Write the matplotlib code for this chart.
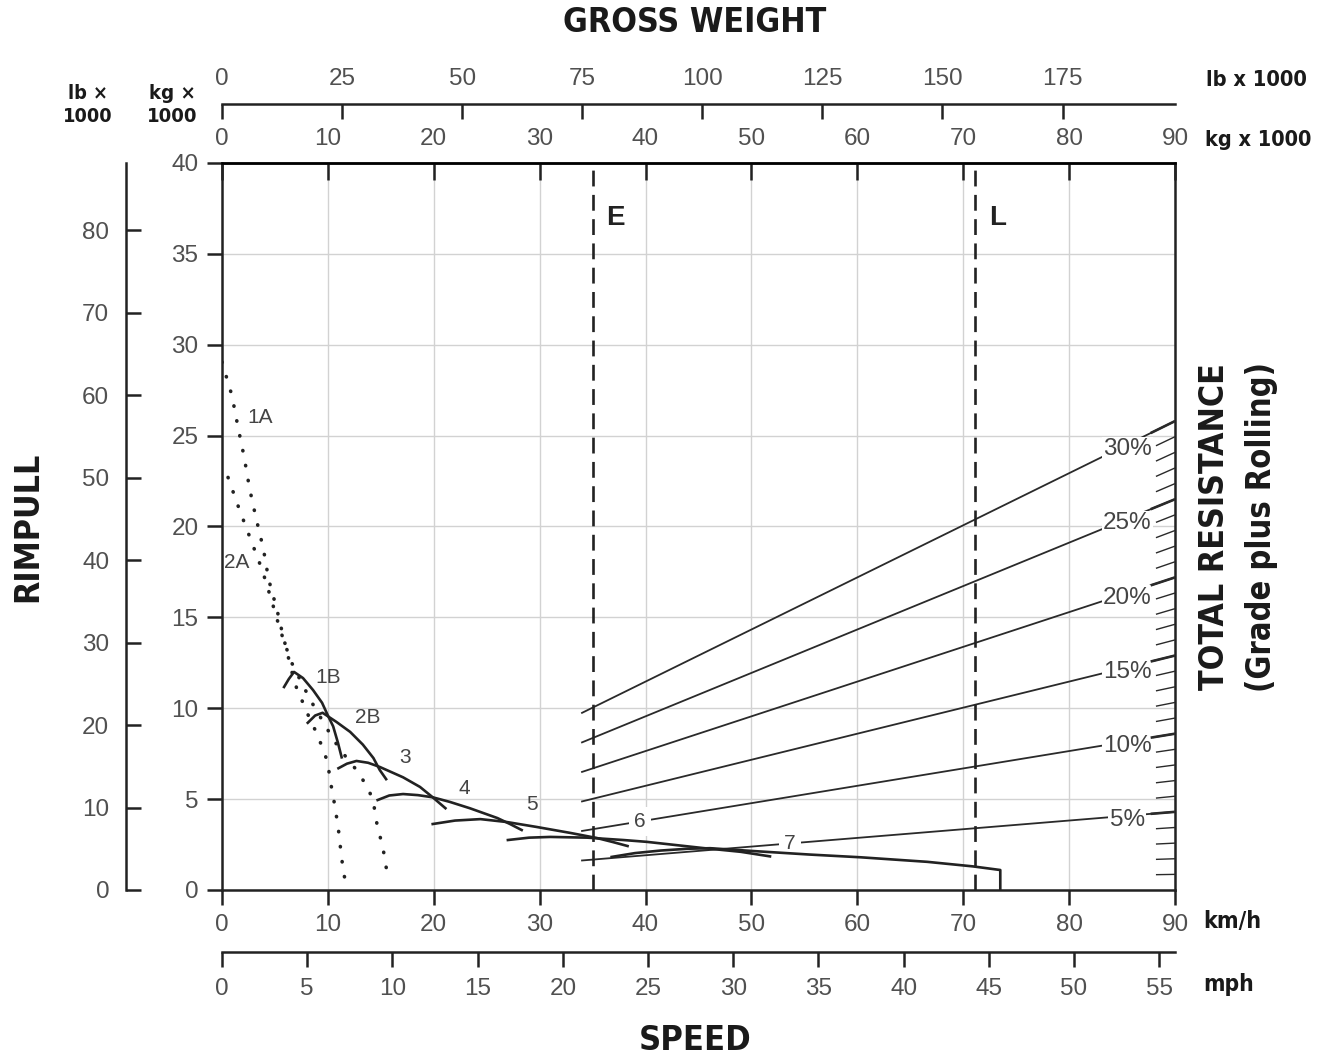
import numpy as np
import matplotlib
matplotlib.use("Agg")
import matplotlib.pyplot as plt
from matplotlib import font_manager
from matplotlib.font_manager import FontProperties

# ---- data (speed km/h, rimpull kg x 1000) ----
gear_1a_x = [0.0, 0.94, 1.5, 2.1, 2.6, 3.2, 3.9, 4.4, 5.2, 5.6, 6.1, 6.6, 7.1, 7.65,
             8.3, 8.97, 9.5, 10.0, 10.2, 10.5, 10.7, 10.95, 11.1, 11.3, 11.45, 11.8]
gear_1a_y = [29.05, 27.2, 25.5, 23.8, 22.1, 20.5, 18.8, 17.1, 15.4, 14.4, 13.2, 12.0, 11.0, 10.3,
             9.4, 8.6, 7.8, 7.0, 6.05, 5.2, 4.4, 3.6, 2.75, 1.8, 1.0, 0.17]
gear_2a_x = [0.57, 1.6, 2.7, 3.8, 4.7, 5.5, 6.5, 7.6, 8.6, 9.6, 10.6, 11.6, 12.7, 13.7,
             14.3, 14.5, 14.8, 15.2, 15.4, 15.7]
gear_2a_y = [22.7, 21.0, 19.3, 17.6, 15.9, 14.3, 12.6, 11.3, 10.2, 9.2, 8.2, 7.4, 6.6, 5.7,
             4.9, 4.0, 3.2, 2.37, 1.54, 0.7]

gear_1b_x = [5.86, 6.3, 6.8, 7.65, 8.6, 9.45, 10.0, 10.5, 10.95, 11.3]
gear_1b_y = [11.17, 11.6, 12.0, 11.66, 11.0, 10.3, 9.6, 9.0, 8.1, 7.3]
gear_2b_x = [8.1, 8.8, 9.5, 10.8, 12.1, 13.3, 14.3, 14.9, 15.5]
gear_2b_y = [9.2, 9.6, 9.75, 9.25, 8.7, 8.0, 7.26, 6.6, 6.1]
gear_3_x = [11.0, 11.8, 12.7, 13.8, 14.9, 17.1, 18.7, 19.9, 21.1]
gear_3_y = [6.7, 6.95, 7.1, 7.0, 6.77, 6.2, 5.67, 5.1, 4.5]
gear_4_x = [14.7, 15.8, 17.1, 18.5, 19.9, 21.5, 23.4, 26.0, 27.2, 28.3]
gear_4_y = [4.95, 5.2, 5.28, 5.22, 5.1, 4.85, 4.5, 3.96, 3.63, 3.3]
gear_5_x = [19.9, 22.0, 24.4, 26.9, 29.7, 32.9, 35.4, 36.9, 38.3]
gear_5_y = [3.63, 3.82, 3.9, 3.74, 3.47, 3.14, 2.86, 2.64, 2.42]
gear_6_x = [27.0, 29.0, 31.0, 34.5, 37.9, 40.1, 45.4, 49.0, 51.75]
gear_6_y = [2.75, 2.88, 2.92, 2.88, 2.75, 2.65, 2.31, 2.1, 1.85]
gear_7_x = [36.8, 39.0, 41.4, 44.0, 46.1, 50.0, 55.5, 60.3, 66.6, 70.9, 73.5, 73.5]
gear_7_y = [1.82, 2.03, 2.17, 2.27, 2.3, 2.15, 1.95, 1.8, 1.55, 1.3, 1.1, 0.0]

empty_weight = 35.0     # kg x 1000, "E"
loaded_weight = 71.1    # kg x 1000, "L"

grades = [5, 10, 15, 20, 25, 30]
minor_grades = list(range(1, 31))
res_per_pct = 0.86      # kg x 1000 of resistance per % at 90 t gross weight
gw_full = 90.0
grade_start = 34.0

kmh_ticks = list(range(0, 91, 10))
mph_ticks = list(range(0, 56, 5))
kg_ticks = list(range(0, 41, 5))
lbl_ticks = list(range(0, 81, 10))
gw_kg_ticks = list(range(0, 91, 10))
gw_lb_ticks = list(range(0, 176, 25))

KG_PER_LB = 0.45359237
KMH_PER_MPH = 1.609344

# ---- fonts ----
ttf = font_manager.fontManager.ttflist
names = {f.name for f in ttf}
plain = "Liberation Sans" if "Liberation Sans" in names else "DejaVu Sans"
plt.rcParams["font.family"] = [plain, "DejaVu Sans"]


def is_bold(f):
    w = f.weight
    if isinstance(w, str):
        return "bold" in w.lower() or "black" in w.lower() or "heavy" in w.lower()
    return w >= 600


cond_files = [f for f in ttf if is_bold(f) and f.style == "normal" and
              ("Condensed" in f.name or "Narrow" in f.name or
               str(f.stretch) in ("condensed", "semi-condensed", "extra-condensed",
                                  "ultra-condensed"))]
if cond_files:
    head_fp = FontProperties(fname=cond_files[0].fname)
else:
    fam = "Roboto" if "Roboto" in names else plain
    head_fp = FontProperties(family=fam, weight="bold")

W, H = 1321, 1062
L, R, T, B = 222, 1175, 163, 890
fig = plt.figure(figsize=(W / 100, H / 100), dpi=100)
ax = fig.add_axes([L / W, 1 - B / H, (R - L) / W, (B - T) / H])
ax.set_xlim(0, 90)
ax.set_ylim(0, 40)

ink = "#222222"
lab = "#505050"
tsize = 17.5

for s in ax.spines.values():
    s.set_linewidth(1.8)
    s.set_color(ink)

ax.set_xticks(kmh_ticks)
ax.set_yticks(kg_ticks)
ax.tick_params(axis="both", direction="out", length=11, width=1.8, color=ink,
               labelsize=tsize, labelcolor=lab)
ax.tick_params(axis="x", pad=6)
ax.tick_params(axis="y", pad=6)
ax.grid(True, color="#d2d2d2", lw=1.0)
ax.set_axisbelow(True)

# top gross weight kg axis
top_kg = ax.secondary_xaxis("top")
top_kg.set_xticks(gw_kg_ticks)
top_kg.tick_params(direction="in", length=12, width=1.8, color=ink,
                   labelsize=tsize, labelcolor=lab, pad=9)
top_kg.spines["top"].set_linewidth(1.8)
top_kg.set_zorder(3)

# top gross weight lb axis
top_lb = ax.secondary_xaxis((B - 104) / (B - T),
                            functions=(lambda x: x / KG_PER_LB, lambda x: x * KG_PER_LB))
top_lb.set_xticks(gw_lb_ticks)
top_lb.tick_params(direction="in", length=11, width=1.8, color=ink,
                   labelsize=tsize, labelcolor=lab, pad=10)
for s in top_lb.spines.values():
    s.set_linewidth(1.8)
    s.set_color(ink)

# left rimpull lb axis
left_lb = ax.secondary_yaxis(-(L - 126) / (R - L),
                             functions=(lambda y: y / KG_PER_LB, lambda y: y * KG_PER_LB))
left_lb.set_yticks(lbl_ticks)
left_lb.tick_params(direction="in", length=11, width=1.8, color=ink,
                    labelsize=tsize, labelcolor=lab, pad=12)
for s in left_lb.spines.values():
    s.set_linewidth(1.8)
    s.set_color(ink)

# bottom mph axis
bot_mph = ax.secondary_xaxis(-(952 - B) / (B - T),
                             functions=(lambda x: x / KMH_PER_MPH, lambda x: x * KMH_PER_MPH))
bot_mph.set_xticks(mph_ticks)
bot_mph.tick_params(direction="out", length=11, width=1.8, color=ink,
                    labelsize=tsize, labelcolor=lab, pad=8)
for s in bot_mph.spines.values():
    s.set_linewidth(1.8)
    s.set_color(ink)


# ---- total resistance lines ----
def resist(p, x):
    return res_per_pct * p * np.asarray(x) / gw_full


for p in grades:
    xs = np.array([grade_start, gw_full])
    ax.plot(xs, resist(p, xs), color="#2a2a2a", lw=1.3, zorder=3)
    ax.text(85.5, resist(p, 85.5) - 0.25, f"{p}%", fontsize=17.5, color="#444444",
            ha="center", va="center", zorder=4,
            bbox=dict(boxstyle="square,pad=0.06", fc="white", ec="none"))
for p in minor_grades:
    major = p % 5 == 0
    xs = np.array([87.7 if major else 88.2, gw_full])
    ax.plot(xs, resist(p, xs), color="#2a2a2a", lw=1.9 if major else 1.0,
            zorder=5, solid_capstyle="butt")

# E and L lines
for xv, name in [(empty_weight, "E"), (loaded_weight, "L")]:
    ax.axvline(xv, color=ink, lw=1.9, ls=(0, (6, 3.2)), zorder=4)
    ax.text(xv + 1.3, 37.0, name, fontsize=20, fontweight="bold", color=ink,
            ha="left", va="center")

# ---- rimpull curves ----
dot_style = dict(color=ink, lw=2.6, ls=(0, (0.1, 4.1)), dash_capstyle="round", zorder=6)
ax.plot(gear_1a_x, gear_1a_y, **dot_style)
ax.plot(gear_2a_x, gear_2a_y, **dot_style)

solid = dict(color=ink, lw=1.9, zorder=6, solid_joinstyle="round")
for gx, gy in [(gear_1b_x, gear_1b_y), (gear_2b_x, gear_2b_y), (gear_3_x, gear_3_y),
               (gear_4_x, gear_4_y), (gear_5_x, gear_5_y), (gear_6_x, gear_6_y),
               (gear_7_x, gear_7_y)]:
    ax.plot(gx, gy, **solid)

gear_labels = {"1A": (3.6, 26.0), "2A": (1.4, 18.0), "1B": (10.0, 11.7),
               "2B": (13.8, 9.5), "3": (17.3, 7.3), "4": (22.9, 5.6),
               "5": (29.3, 4.7)}
for txt, (lx, ly) in gear_labels.items():
    ax.text(lx, ly, txt, fontsize=15, color="#444444", ha="center", va="center", zorder=7)
for txt, lx in [("6", 39.5), ("7", 53.6)]:
    p = 10 if txt == "6" else 5
    ax.text(lx, resist(p, lx), txt, fontsize=15, color="#444444", ha="center",
            va="center", zorder=4,
            bbox=dict(boxstyle="square,pad=0.25", fc="white", ec="none"))


# ---- titles ----
def fx(px):
    return px / W


def fy(py):
    return 1 - py / H


renderer = fig.canvas.get_renderer()


def head(px, py, s, span, size, rot=0, ha="center"):
    t = fig.text(fx(px), fy(py), s, fontproperties=head_fp, color="#1a1a1a",
                 rotation=rot, ha=ha, va="center", linespacing=1.25)
    t.set_fontsize(size)
    bb = t.get_window_extent(renderer)
    got = bb.height if rot else bb.width
    # the original face is condensed; allow a little extra length so height stays close
    span = span * 1.1
    if got > span:
        t.set_fontsize(size * span / got)
    return t


head(695, 22, "GROSS WEIGHT", 240, 28)
head(695, 1040, "SPEED", 102, 28)
head(28, 527, "RIMPULL", 137, 28, rot=90)
head(1215, 527, "TOTAL RESISTANCE", 298, 28, rot=90)
head(1262, 527, "(Grade plus Rolling)", 300, 28, rot=90)
head(1256, 80, "lb x 1000", 92, 19)
head(1258, 140, "kg x 1000", 97, 19)
head(1203, 922, "km/h", 53, 19, ha="left")
head(1203, 985, "mph", 46, 19, ha="left")
head(88, 105, "lb \u00d7\n1000", 45, 19)
head(172, 105, "kg \u00d7\n1000", 46, 19)

fig.savefig("out.png", dpi=100, facecolor="white")
